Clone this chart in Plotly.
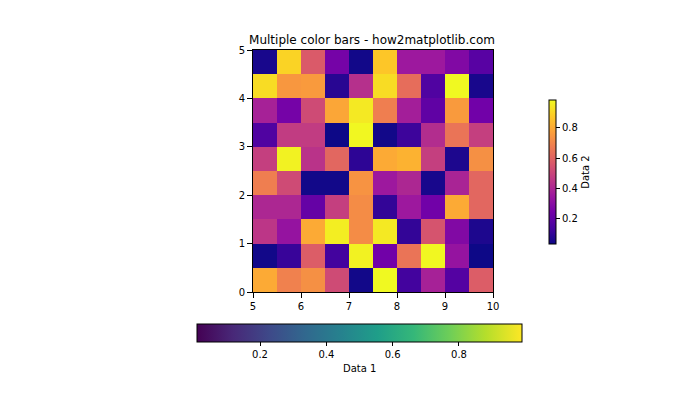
import plotly.graph_objects as go

# Data 2 (plasma), rows listed from top (y=4.5-5) to bottom (y=0-0.5)
data2_rows_top_to_bottom = [
    [0.05, 0.90, 0.57, 0.25, 0.04, 0.87, 0.35, 0.35, 0.28, 0.18],
    [0.92, 0.75, 0.76, 0.08, 0.43, 0.92, 0.63, 0.16, 0.985, 0.05],
    [0.38, 0.25, 0.52, 0.79, 0.95, 0.68, 0.37, 0.20, 0.76, 0.24],
    [0.16, 0.47, 0.47, 0.03, 0.98, 0.04, 0.12, 0.42, 0.65, 0.48],
    [0.48, 0.97, 0.44, 0.61, 0.09, 0.80, 0.82, 0.48, 0.06, 0.73],
    [0.68, 0.52, 0.04, 0.04, 0.74, 0.35, 0.40, 0.05, 0.39, 0.61],
    [0.40, 0.40, 0.21, 0.48, 0.72, 0.10, 0.35, 0.24, 0.80, 0.61],
    [0.45, 0.33, 0.80, 0.96, 0.72, 0.95, 0.10, 0.55, 0.28, 0.06],
    [0.04, 0.11, 0.58, 0.13, 0.97, 0.24, 0.65, 0.98, 0.33, 0.03],
    [0.80, 0.69, 0.73, 0.52, 0.04, 0.985, 0.13, 0.38, 0.17, 0.58],
]
# Data 1 (viridis) is hidden underneath; only its range shows in the colour bar
data1_range = [0.01, 0.99]

x_centers = [5.25 + 0.5 * i for i in range(10)]
y_centers = [0.25 + 0.5 * i for i in range(10)]

OFF = 8  # page body margin
W, H = 700, 420
L, R, T, B = 253 - OFF, 493 - OFF, 50 - OFF, 292 - OFF
pw, ph = R - L, B - T

def px_x(p):
    return (p - OFF - L) / pw

def px_y(p):
    return (B - (p - OFF)) / ph

font = "DejaVu Sans"

fig = go.Figure()

# Hidden Data 1 colour bar (viridis)
fig.add_trace(go.Scatter(
    x=[7.5, 7.5], y=[2.5, 2.5], mode="markers",
    marker=dict(
        color=data1_range, colorscale="Viridis", cmin=min(data1_range), cmax=max(data1_range),
        opacity=0, size=1, showscale=True,
        colorbar=dict(
            orientation="h", x=px_x(197), xanchor="left", y=px_y(324), yanchor="top",
            lenmode="pixels", len=325, thickness=18, xpad=0, ypad=0,
            outlinewidth=1, outlinecolor="black",
            ticks="outside", ticklen=4, tickcolor="black",
            tickvals=[0.2, 0.4, 0.6, 0.8], ticktext=["0.2", "0.4", "0.6", "0.8"],
            tickfont=dict(family=font, size=10, color="black"),
        ),
    ),
    hoverinfo="skip", showlegend=False,
))

z2 = data2_rows_top_to_bottom[::-1]
zmin = min(min(r) for r in z2)
zmax = max(max(r) for r in z2)

fig.add_trace(go.Heatmap(
    x=x_centers, y=y_centers, z=z2, colorscale="Plasma", zmin=zmin, zmax=zmax,
    colorbar=dict(
        x=px_x(549), xanchor="left", y=px_y(172), yanchor="middle",
        lenmode="pixels", len=144, thickness=7, xpad=0, ypad=0,
        outlinewidth=1, outlinecolor="black",
        ticks="outside", ticklen=4, tickcolor="black",
        tickvals=[0.2, 0.4, 0.6, 0.8], ticktext=["0.2", "0.4", "0.6", "0.8"],
        tickfont=dict(family=font, size=10, color="black"),
        title=dict(text="Data 2", side="right", font=dict(family=font, size=10, color="black")),
    ),
))

axis_common = dict(
    showgrid=False, zeroline=False, showline=True, mirror=True,
    linecolor="black", linewidth=1, ticks="outside", ticklen=5, tickcolor="black",
    tickfont=dict(family=font, size=10, color="black"),
)

fig.update_layout(
    width=W, height=H,
    margin=dict(l=L, r=W - R, t=T, b=H - B, pad=0),
    paper_bgcolor="white", plot_bgcolor="white",
    title=dict(text="Multiple color bars - how2matplotlib.com", x=(372 - OFF) / W,
               xanchor="center", y=1 - (40 - OFF) / H, yanchor="middle",
               font=dict(family=font, size=12, color="black")),
    xaxis=dict(range=[5, 10], tickvals=[5, 6, 7, 8, 9, 10], **axis_common),
    yaxis=dict(range=[0, 5], tickvals=[0, 1, 2, 3, 4, 5], **axis_common),
    annotations=[dict(text="Data 1", xref="paper", yref="paper",
                      x=px_x(359), y=px_y(368), xanchor="center", yanchor="middle",
                      showarrow=False, font=dict(family=font, size=10, color="black"))],
)

fig.write_html("out.html")
